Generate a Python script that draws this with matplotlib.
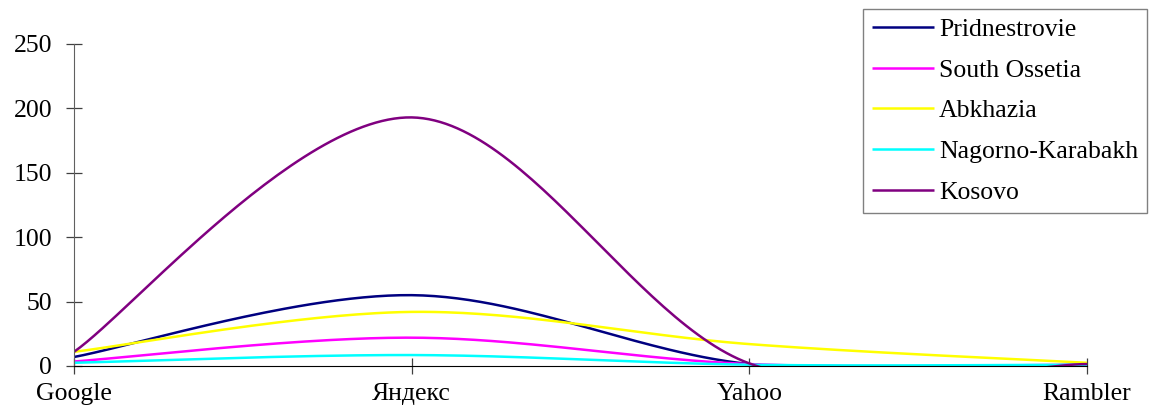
import numpy as np
import matplotlib
matplotlib.use("Agg")
import matplotlib.pyplot as plt

categories = ["Google", "Яндекс", "Yahoo", "Rambler"]
pridnestrovie = [7, 55, 1.5, 1]
south_ossetia = [3.5, 22, 1.5, 1]
abkhazia = [11, 42, 17, 2.5]
nagorno_karabakh = [2.5, 8.5, 1, 1]
kosovo = [11, 193, 2, 1.5]

series_names = ["Pridnestrovie", "South Ossetia", "Abkhazia", "Nagorno-Karabakh", "Kosovo"]
series_values = [pridnestrovie, south_ossetia, abkhazia, nagorno_karabakh, kosovo]
series_colors = ["#000080", "#FF00FF", "#FFFF00", "#00FFFF", "#800080"]
y_ticks = [0, 50, 100, 150, 200, 250]

plt.rcParams['font.family'] = ['Liberation Serif', 'DejaVu Serif']
FS = 18.5

W, H = 1154, 412
fig = plt.figure(figsize=(W / 100, H / 100), dpi=100)
ax = fig.add_axes([74 / W, 46 / H, (1087 - 74) / W, (366 - 44) / H])
x = np.arange(len(categories))
ax.set_xlim(0, len(categories) - 1)
ax.set_ylim(0, 250)


def smooth(ax, xs, ys, n=60):
    P = ax.transData.transform(np.column_stack([xs, ys]))
    out = []
    m = len(P)
    for i in range(m - 1):
        p0 = P[i - 1] if i > 0 else P[i]
        p1 = P[i]
        p2 = P[i + 1]
        p3 = P[i + 2] if i + 2 < m else P[i + 1]
        c1 = p1 + (p2 - p0) / 6.0
        c2 = p2 - (p3 - p1) / 6.0
        t = np.linspace(0, 1, n)[:, None]
        seg = ((1 - t) ** 3) * p1 + 3 * ((1 - t) ** 2) * t * c1 + 3 * (1 - t) * t ** 2 * c2 + t ** 3 * p2
        if i > 0:
            seg = seg[1:]
        out.append(seg)
    out = np.vstack(out)
    d = ax.transData.inverted().transform(out)
    return d[:, 0], d[:, 1]


handles = []
for name, vals, col in zip(series_names, series_values, series_colors):
    sx, sy = smooth(ax, x, vals)
    ln, = ax.plot(sx, sy, color=col, lw=1.8, solid_capstyle='butt', label=name)
    handles.append(ln)

ax.set_xticks(x)
ax.set_xticklabels(categories, fontsize=FS)
ax.set_yticks(y_ticks)
ax.set_yticklabels([str(v) for v in y_ticks], fontsize=FS)
for s in ["top", "right"]:
    ax.spines[s].set_visible(False)
ax.spines["left"].set_color("#606060")
ax.spines["bottom"].set_color("black")
ax.tick_params(axis='y', direction='inout', length=11.5, width=0.9, color="#404040", pad=10)
ax.tick_params(axis='x', direction='inout', length=11, width=0.9, color="#404040", pad=7)

leg = fig.legend(handles=handles, loc='upper left',
                 bbox_to_anchor=(863 / W, 1 - 9 / H),
                 bbox_transform=fig.transFigure,
                 fontsize=FS, frameon=True, fancybox=False,
                 borderpad=0.35, handlelength=2.4, handletextpad=0.2,
                 labelspacing=0.69, borderaxespad=0)
leg.get_frame().set_edgecolor("#606060")
leg.get_frame().set_linewidth(1.0)

fig.savefig("out.png", dpi=100)
